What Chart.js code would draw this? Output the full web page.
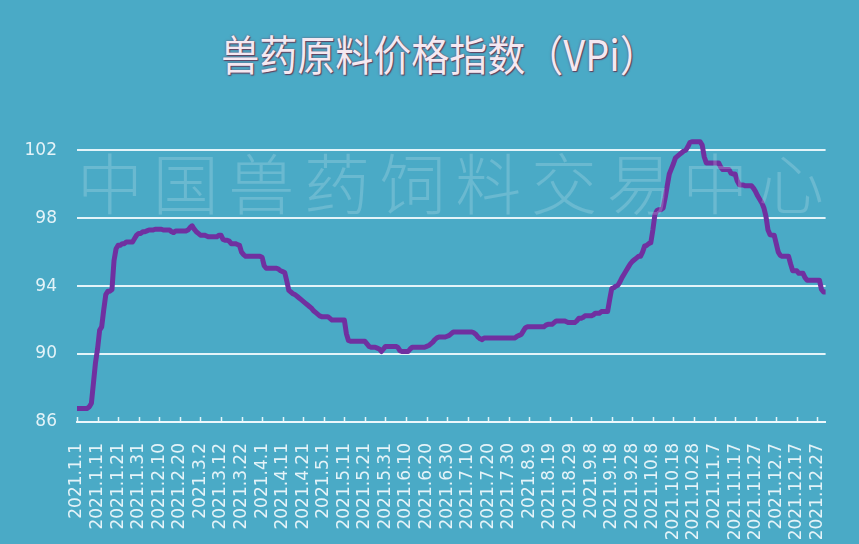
<!DOCTYPE html>
<html lang="zh-CN">
<head>
<meta charset="utf-8">
<title>兽药原料价格指数（VPi）</title>
<script src="https://cdn.jsdelivr.net/npm/chart.js@4.4.1/dist/chart.umd.min.js"></script>
<style>
  html, body { margin: 0; padding: 0; background: #4aaac6; }
  #wrap { position: relative; width: 859px; height: 544px; background: #4aaac6; overflow: hidden; }
  #vpiTitle {
    position: absolute; left: 20px; right: 0; top: 22px; margin: 0;
    text-align: center; font: 400 38px "Noto Sans CJK SC", sans-serif;
    color: #f4e8f1; transform: scaleY(1.12); transform-origin: center top;
    text-shadow: 0 0 2px #6b4a68, 1px 1px 1px #5c3c5a;
  }
  canvas { position: absolute; left: 0; top: 0; }
</style>
</head>
<body>
<div id="wrap">
  <h1 id="vpiTitle">兽药原料价格指数（VPi）</h1>
  <canvas id="vpiChart" width="859" height="544"></canvas>
</div>
<script>
// daily categories for 2021, a label shown every 10th day
const START_YEAR = 2021;
const DAY_COUNT = 365;
const LABEL_EVERY = 10;
const dayLabels = [];
for (let i = 0; i < DAY_COUNT; i++) {
  const d = new Date(Date.UTC(START_YEAR, 0, 1 + i));
  dayLabels.push(`${d.getUTCFullYear()}.${d.getUTCMonth() + 1}.${d.getUTCDate()}`);
}

// index values, one row per 10 days (row starts at each labelled date)
const vpiValues = [
  86.8, 86.8, 86.8, 86.8, 86.8, 86.8, 86.9, 87.1, 88.3, 89.5,
  90.3, 91.4, 91.6, 92.6, 93.5, 93.7, 93.7, 93.8, 95.5, 96.2,
  96.4, 96.4, 96.5, 96.5, 96.6, 96.6, 96.6, 96.6, 96.8, 97.0,
  97.1, 97.1, 97.2, 97.2, 97.25, 97.3, 97.3, 97.3, 97.35, 97.35,
  97.35, 97.35, 97.3, 97.3, 97.3, 97.3, 97.2, 97.15, 97.25, 97.25,
  97.25, 97.25, 97.25, 97.25, 97.3, 97.45, 97.55, 97.35, 97.2, 97.1,
  97.0, 97.0, 97.0, 96.95, 96.9, 96.9, 96.9, 96.9, 96.9, 97.0,
  97.0, 96.75, 96.7, 96.7, 96.65, 96.5, 96.5, 96.5, 96.45, 96.4,
  96.0, 95.85, 95.75, 95.75, 95.75, 95.75, 95.75, 95.75, 95.75, 95.75,
  95.7, 95.2, 95.05, 95.05, 95.05, 95.05, 95.05, 95.05, 95.0, 94.9,
  94.85, 94.8, 94.3, 93.75, 93.65, 93.55, 93.5, 93.4, 93.3, 93.2,
  93.1, 93.0, 92.9, 92.8, 92.7, 92.55, 92.45, 92.35, 92.25, 92.2,
  92.2, 92.2, 92.2, 92.1, 92.0, 92.0, 92.0, 92.0, 92.0, 92.0,
  92.0, 91.2, 90.8, 90.75, 90.75, 90.75, 90.75, 90.75, 90.75, 90.75,
  90.75, 90.6, 90.45, 90.4, 90.4, 90.4, 90.35, 90.3, 90.15, 90.3,
  90.45, 90.45, 90.45, 90.45, 90.45, 90.45, 90.4, 90.2, 90.15, 90.15,
  90.15, 90.15, 90.3, 90.4, 90.4, 90.4, 90.4, 90.4, 90.4, 90.4,
  90.45, 90.5, 90.6, 90.7, 90.85, 90.95, 91.0, 91.0, 91.0, 91.0,
  91.05, 91.1, 91.2, 91.3, 91.3, 91.3, 91.3, 91.3, 91.3, 91.3,
  91.3, 91.3, 91.3, 91.25, 91.15, 91.0, 90.9, 90.85, 90.95, 90.95,
  90.95, 90.95, 90.95, 90.95, 90.95, 90.95, 90.95, 90.95, 90.95, 90.95,
  90.95, 90.95, 90.95, 90.95, 91.05, 91.1, 91.15, 91.35, 91.55, 91.6,
  91.6, 91.6, 91.6, 91.6, 91.6, 91.6, 91.6, 91.6, 91.7, 91.75,
  91.75, 91.75, 91.85, 91.95, 91.95, 91.95, 91.95, 91.95, 91.9, 91.85,
  91.85, 91.85, 91.85, 91.95, 92.1, 92.1, 92.15, 92.25, 92.25, 92.25,
  92.25, 92.3, 92.4, 92.4, 92.4, 92.5, 92.5, 92.5, 92.5, 93.2,
  93.85, 93.9, 94.0, 94.05, 94.25, 94.5, 94.7, 94.9, 95.1, 95.3,
  95.45, 95.55, 95.65, 95.75, 95.75, 96.0, 96.35, 96.4, 96.5, 96.55,
  97.3, 98.2, 98.45, 98.5, 98.5, 98.6, 99.2, 99.9, 100.6, 100.9,
  101.2, 101.55, 101.65, 101.75, 101.85, 101.95, 102.0, 102.2, 102.45, 102.5,
  102.5, 102.5, 102.5, 102.5, 102.3, 101.6, 101.25, 101.25, 101.25, 101.25,
  101.25, 101.25, 101.25, 101.0, 100.86, 100.86, 100.86, 100.86, 100.65, 100.6,
  100.6, 100.2, 99.97, 99.95, 99.95, 99.9, 99.9, 99.9, 99.9, 99.75,
  99.55, 99.3, 99.1, 98.9, 98.6, 98.1, 97.3, 97.02, 97.0, 97.0,
  96.5, 96.0, 95.8, 95.75, 95.75, 95.75, 95.75, 95.3, 94.9, 94.9,
  94.9, 94.75, 94.75, 94.75, 94.5, 94.35, 94.35, 94.35, 94.35, 94.35,
  94.35, 94.35, 93.8, 93.65, 93.65
];

const yTickValues = [86, 90, 94, 98, 102];
const watermarkText = '中国兽药饲料交易中心';

const LIGHT = '#e4f3f8';
const GRID = 'rgba(236,248,252,0.95)';

// faint watermark over the plot
const watermark = {
  id: 'watermark',
  afterDatasetsDraw(chart) {
    const { ctx, chartArea: a, scales: { y } } = chart;
    const chars = [...watermarkText];
    const pitch = (a.right - a.left + 8) / chars.length;
    const cy = (y.getPixelForValue(102) + y.getPixelForValue(98)) / 2;
    ctx.save();
    ctx.font = '300 66px "Noto Sans CJK SC", sans-serif';
    ctx.fillStyle = 'rgba(235,245,248,0.2)';
    ctx.textBaseline = 'middle';
    ctx.textAlign = 'left';
    chars.forEach((ch, i) => ctx.fillText(ch, a.left + i * pitch, cy));
    ctx.restore();
  }
};

// short tick marks pointing up from the x axis at labelled dates
const innerTicks = {
  id: 'innerTicks',
  afterDraw(chart) {
    const { ctx, chartArea: a, scales: { x } } = chart;
    ctx.save();
    ctx.strokeStyle = GRID;
    ctx.lineWidth = 1.5;
    ctx.beginPath();
    for (let i = 0; i < dayLabels.length; i += LABEL_EVERY) {
      const px = Math.round(x.getPixelForValue(i)) + 0.5;
      ctx.moveTo(px, a.bottom);
      ctx.lineTo(px, a.bottom - 5);
    }
    ctx.stroke();
    ctx.restore();
  }
};

new Chart(document.getElementById('vpiChart'), {
  type: 'line',
  data: {
    labels: dayLabels,
    datasets: [{
      data: vpiValues,
      borderColor: '#7030a0',
      borderWidth: 5,
      pointRadius: 0,
      tension: 0,
      borderJoinStyle: 'round',
      clip: false
    }]
  },
  options: {
    responsive: false,
    animation: false,
    layout: { padding: { top: 140, right: 21, bottom: 0, left: 0 } },
    plugins: { legend: { display: false }, tooltip: { enabled: false } },
    scales: {
      x: {
        grid: { display: false },
        border: { display: true, color: GRID, width: 2 },
        ticks: {
          autoSkip: false,
          minRotation: 90,
          maxRotation: 90,
          padding: 13,
          color: LIGHT,
          font: { family: 'DejaVu Sans', size: 17 },
          callback: (v, i) => (i % LABEL_EVERY === 0 ? dayLabels[i] : '')
        },
        afterFit: (s) => { s.height = 122; }
      },
      y: {
        min: 86,
        max: 102.6,
        afterBuildTicks: (s) => { s.ticks = yTickValues.map(value => ({ value })); },
        grid: { color: GRID, lineWidth: 2, drawTicks: false },
        border: { display: false },
        ticks: {
          padding: 20,
          color: LIGHT,
          font: { family: 'DejaVu Sans', size: 17 }
        },
        afterFit: (s) => { s.width = 77; }
      }
    }
  },
  plugins: [watermark, innerTicks]
});
</script>
</body>
</html>
